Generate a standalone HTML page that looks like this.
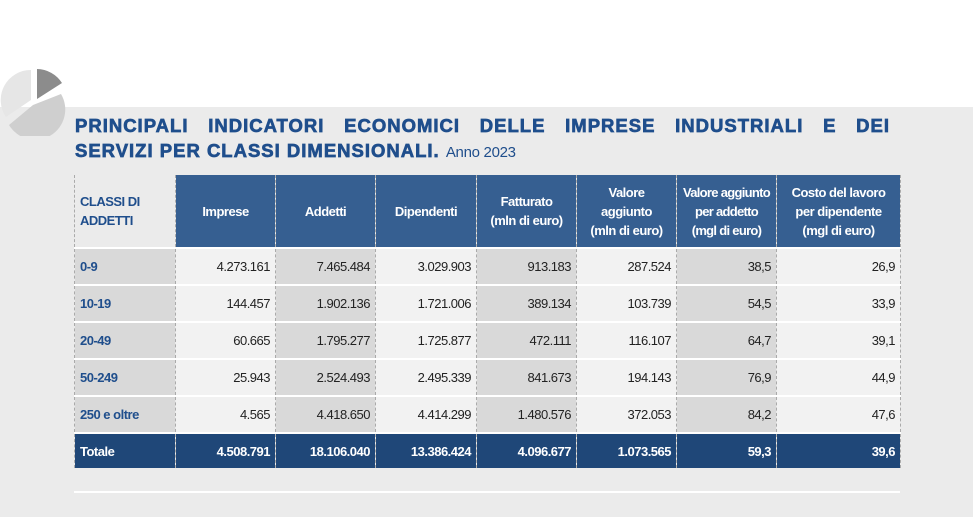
<!DOCTYPE html>
<html><head><meta charset="utf-8"><style>
body{margin:0;width:973px;height:517px;overflow:hidden;background:#fff;font-family:"Liberation Sans",sans-serif;position:relative}
.bg{position:absolute;left:0;top:107px;width:973px;height:410px;background:#ebebeb}
.title{position:absolute;left:75px;top:113px;width:815px;color:#1f4e8c;font-weight:bold;font-size:18.5px;line-height:25px;letter-spacing:1px;-webkit-text-stroke:0.7px #1f4e8c;text-align:justify;text-align-last:justify}
.t2{position:absolute;left:75px;top:138px;color:#1f4e8c;font-weight:bold;font-size:18.5px;line-height:25px;letter-spacing:1px;-webkit-text-stroke:0.7px #1f4e8c}
.t2 span{font-weight:normal;font-size:15px;letter-spacing:-0.3px;-webkit-text-stroke:0}
table{position:absolute;left:74px;top:175px;border-collapse:collapse;table-layout:fixed;width:826px;font-size:13px;letter-spacing:-0.5px}
td{padding:0 5px;border-left:1px dashed #aaa;border-right:1px dashed #aaa;border-top:2px solid #fff;text-align:right;color:#222;white-space:nowrap;overflow:hidden}
tr.h td{background:#365f91;color:#fff;font-weight:bold;text-align:center;height:72px;line-height:19px;border-top:none}
tr.h td.f{background:#ebebeb;color:#1f4e8c;text-align:left;vertical-align:middle}
tr.r td{height:35px}
td.f{background:#d9d9d9;color:#1f4e8c;font-weight:bold;text-align:left}
td.a{background:#f2f2f2}td.b{background:#d9d9d9}
tr.tot td{background:#1f4778;color:#fff;font-weight:bold;height:34px}
.line{position:absolute;left:74px;top:491px;width:826px;height:2px;background:#fff}
</style></head><body>
<div class="bg"></div>
<svg style="position:absolute;left:0;top:64px" width="70" height="72">
<path d="M33 37 L33 7 A30 30 0 0 0 8 54 Z" fill="#e6e6e6" transform="translate(-2,-1)"/>
<path d="M33 37 L33 7 A30 30 0 0 1 58 21 Z" fill="#8c8c8c" transform="translate(4,-2)"/>
<path d="M33 37 L61 26 A30 30 0 0 1 9 57 Z" fill="#cfcfcf" transform="translate(0,4)"/>
</svg>
<div class="title">PRINCIPALI INDICATORI ECONOMICI DELLE IMPRESE INDUSTRIALI E DEI</div>
<div class="t2">SERVIZI PER CLASSI DIMENSIONALI. <span>Anno 2023</span></div>
<table>
<colgroup><col style="width:101px"><col style="width:100px"><col style="width:100px"><col style="width:101px"><col style="width:100px"><col style="width:100px"><col style="width:100px"><col style="width:124px"></colgroup>
<tr class="h"><td class="f">CLASSI DI<br>ADDETTI</td><td>Imprese</td><td>Addetti</td><td>Dipendenti</td><td>Fatturato<br>(mln di euro)</td><td>Valore<br>aggiunto<br>(mln di euro)</td><td style="letter-spacing:-0.7px">Valore aggiunto<br>per addetto<br>(mgl di euro)</td><td>Costo del lavoro<br>per dipendente<br>(mgl di euro)</td></tr>
<tr class="r"><td class="f">0-9</td><td class="a">4.273.161</td><td class="b">7.465.484</td><td class="a">3.029.903</td><td class="b">913.183</td><td class="a">287.524</td><td class="b">38,5</td><td class="a">26,9</td></tr>
<tr class="r"><td class="f">10-19</td><td class="a">144.457</td><td class="b">1.902.136</td><td class="a">1.721.006</td><td class="b">389.134</td><td class="a">103.739</td><td class="b">54,5</td><td class="a">33,9</td></tr>
<tr class="r"><td class="f">20-49</td><td class="a">60.665</td><td class="b">1.795.277</td><td class="a">1.725.877</td><td class="b">472.111</td><td class="a">116.107</td><td class="b">64,7</td><td class="a">39,1</td></tr>
<tr class="r"><td class="f">50-249</td><td class="a">25.943</td><td class="b">2.524.493</td><td class="a">2.495.339</td><td class="b">841.673</td><td class="a">194.143</td><td class="b">76,9</td><td class="a">44,9</td></tr>
<tr class="r"><td class="f">250 e oltre</td><td class="a">4.565</td><td class="b">4.418.650</td><td class="a">4.414.299</td><td class="b">1.480.576</td><td class="a">372.053</td><td class="b">84,2</td><td class="a">47,6</td></tr>
<tr class="tot"><td style="text-align:left">Totale</td><td>4.508.791</td><td>18.106.040</td><td>13.386.424</td><td>4.096.677</td><td>1.073.565</td><td>59,3</td><td>39,6</td></tr>
</table>
<div class="line"></div>
</body></html>
